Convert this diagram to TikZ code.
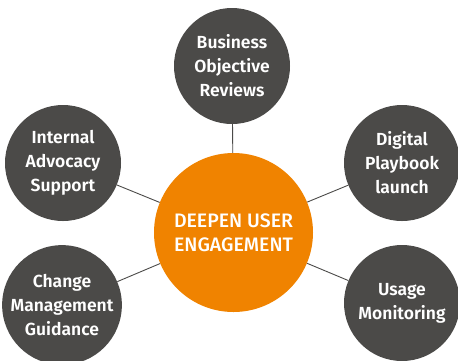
\documentclass[tikz,border=0pt]{standalone}
\usepackage{fontspec}
\setmainfont{Fira Sans}
\newfontfamily\hubfont{Fira Sans Medium}
\newfontfamily\spokefont{Fira Sans SemiBold}
\usetikzlibrary{backgrounds}
\definecolor{hubfill}{HTML}{F08300}
\definecolor{spokefill}{HTML}{4B4A48}
\definecolor{linkcol}{HTML}{4B4A48}
\begin{document}
\begin{tikzpicture}[x=1pt,y=-1pt,
  hub/.style={circle,fill=hubfill,inner sep=0pt,minimum size=159pt,text=white,
    align=center,font=\hubfont\fontsize{19.5}{24}\selectfont},
  spoke/.style={circle,fill=spokefill,inner sep=0pt,minimum size=116pt,text=white,
    align=center,font=\spokefont\fontsize{17.5}{24}\selectfont},
  link/.style={draw=linkcol,line width=0.9pt}]
\useasboundingbox (0,0) rectangle (458,360);
\clip (0,0) rectangle (458,360);
\node[hub] (core) at (233.5,232.5) {DEEPEN USER\\ENGAGEMENT};
\node[spoke] (bor) at (232,66) {Business\\Objective\\Reviews};
\node[spoke] (ias) at (63,163) {Internal\\Advocacy\\Support};
\node[spoke] (cmg) at (62,305) {Change\\Management\\Guidance};
\node[spoke] (dpl) at (402,163) {Digital\\Playbook\\launch};
\node[spoke] (umo) at (402,303) {Usage\\Monitoring};
\begin{scope}[on background layer]
  \draw[link] (core) -- (bor);
  \draw[link] (core) -- (ias);
  \draw[link] (core) -- (cmg);
  \draw[link] (core) -- (dpl);
  \draw[link] (core) -- (umo);
\end{scope}
\end{tikzpicture}
\end{document}
